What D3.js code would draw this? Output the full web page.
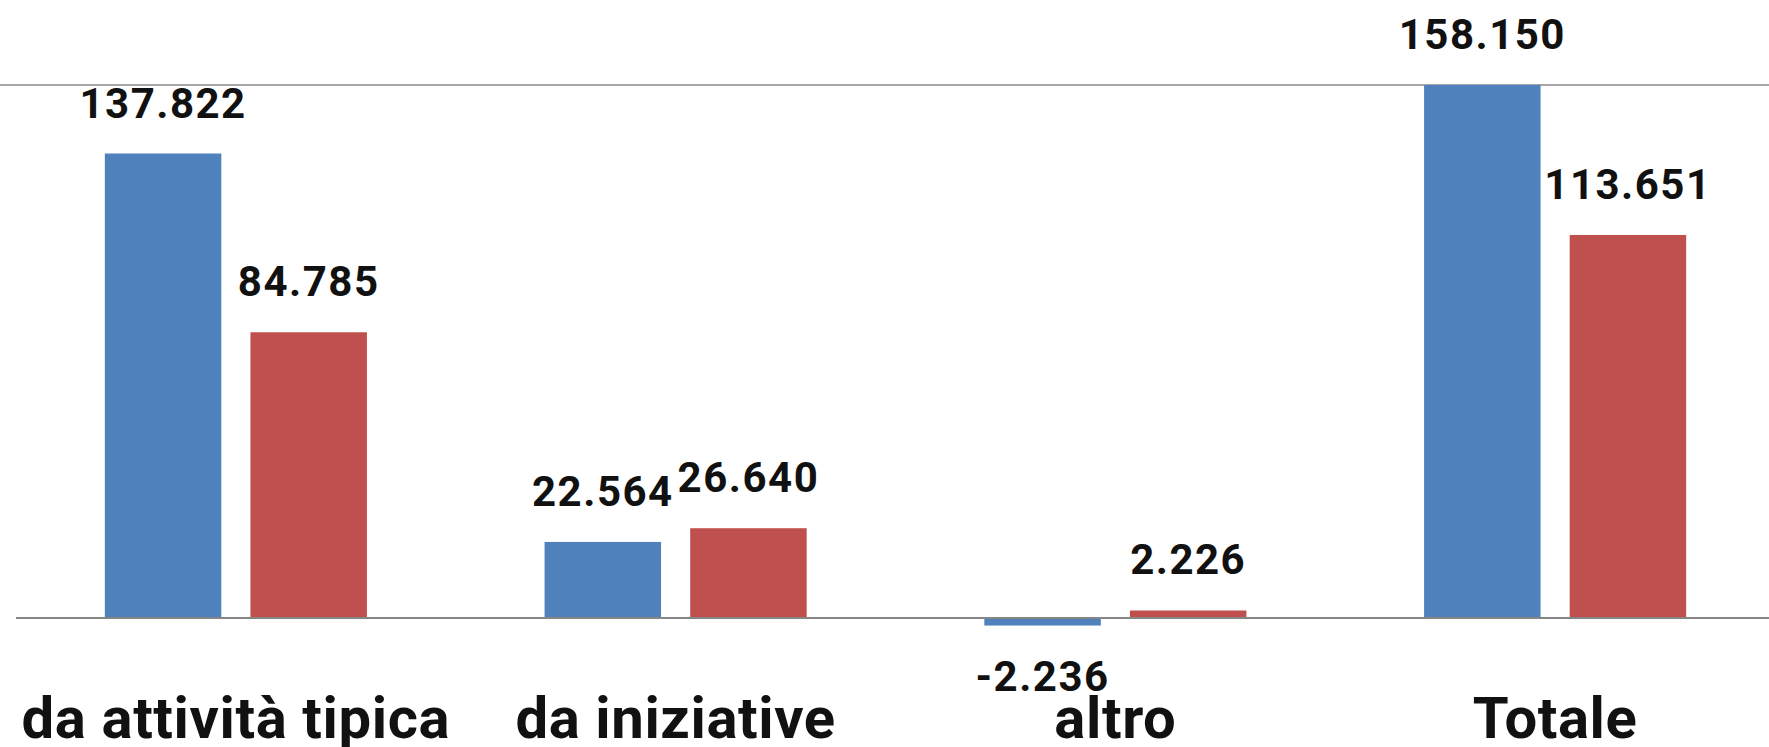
<!DOCTYPE html>
<html>
<head>
<meta charset="utf-8">
<script src="https://cdn.jsdelivr.net/npm/d3@7/dist/d3.min.js"></script>
<style>
  html, body { margin: 0; padding: 0; background: #ffffff; overflow: hidden; }
  svg { display: block; }
</style>
</head>
<body>
<svg id="chart" width="1769" height="747"></svg>
<script>
// ---- data ----
const categories = ["da attività tipica", "da iniziative", "altro", "Totale"];
const seriesNames = ["Serie 1", "Serie 2"];
const series1 = [137.822, 22.564, -2.236, 158.150];
const series2 = [84.785, 26.640, 2.226, 113.651];
const valueLabels1 = ["137.822", "22.564", "-2.236", "158.150"];
const valueLabels2 = ["84.785", "26.640", "2.226", "113.651"];

const colors = ["#4F81BD", "#C0504D"];

// ---- layout ----
const W = 1769, H = 747;
const svg = d3.select("#chart");

const rows = categories.map((c, i) => ({
  cat: c,
  vals: [
    { s: 0, v: series1[i], label: valueLabels1[i] },
    { s: 1, v: series2[i], label: valueLabels2[i] }
  ]
}));

const yMax = d3.max(series1.concat(series2));
const y = d3.scaleLinear().domain([0, yMax]).range([618, 85]);

const x0 = d3.scaleBand()
  .domain(categories)
  .range([16, 1775])
  .paddingInner(0.404)
  .paddingOuter(0.202);

const x1 = d3.scaleBand()
  .domain([0, 1])
  .range([0, x0.bandwidth()])
  .paddingInner(0.2)
  .paddingOuter(0);

// top gridline (plot area top)
svg.append("line")
  .attr("x1", 0).attr("x2", W)
  .attr("y1", y(yMax)).attr("y2", y(yMax))
  .attr("stroke", "#8a8a8a").attr("stroke-width", 1.5);

// bars
const g = svg.append("g");
const groups = g.selectAll("g.grp").data(rows).join("g")
  .attr("class", "grp")
  .attr("transform", d => `translate(${x0(d.cat)},0)`);

groups.selectAll("rect").data(d => d.vals).join("rect")
  .attr("x", d => x1(d.s))
  .attr("width", x1.bandwidth())
  .attr("y", d => Math.min(y(d.v), y(0)))
  .attr("height", d => Math.abs(y(d.v) - y(0)))
  .attr("fill", d => colors[d.s]);

// baseline axis
const xAxis = d3.axisBottom(x0).tickSize(0).tickFormat("");
const axG = svg.append("g").attr("transform", `translate(0,${y(0)})`).call(xAxis);
axG.select(".domain").attr("stroke", "#868686").attr("stroke-width", 2.2)
  .attr("d", `M16,0H${W}`);

// value labels
groups.selectAll("text.val").data(d => d.vals).join("text")
  .attr("class", "val")
  .attr("x", d => x1(d.s) + x1.bandwidth() / 2)
  .attr("y", d => d.v >= 0 ? y(d.v) - 36 : y(d.v) + 65)
  .attr("text-anchor", "middle")
  .style("font-family", "Roboto, 'Open Sans', sans-serif")
  .style("font-weight", "700")
  .style("font-size", "42px")
  .style("letter-spacing", "1.5px")
  .attr("fill", "#111111")
  .text(d => d.label);

// category labels
svg.append("g").selectAll("text.cat").data(categories).join("text")
  .attr("class", "cat")
  .attr("x", d => x0(d) + x0.bandwidth() / 2)
  .attr("y", 738)
  .attr("text-anchor", "middle")
  .style("font-family", "Roboto, 'Open Sans', sans-serif")
  .style("font-weight", "700")
  .style("font-size", "58px")
  .style("letter-spacing", "0.6px")
  .attr("fill", "#111111")
  .text(d => d);
</script>
</body>
</html>
